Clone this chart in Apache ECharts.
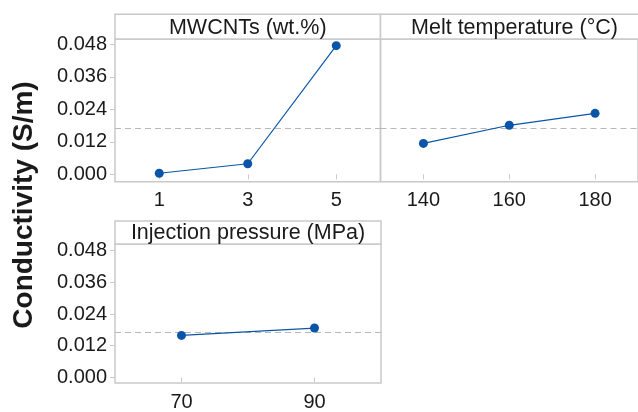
<!DOCTYPE html>
<html>
<head>
<meta charset="utf-8">
<script src="https://cdn.jsdelivr.net/npm/echarts@6/dist/echarts.min.js"></script>
<style>
  html, body { margin: 0; padding: 0; background: #ffffff; }
  #chart { width: 638px; height: 412px; }
</style>
</head>
<body>
<div id="chart"></div>
<script>
// Main effects of each factor on conductivity (S/m)
const mwcntLevels = ['1', '3', '5'];
const mwcntMeans = [0.0004, 0.0039, 0.0475];

const meltLevels = ['140', '160', '180'];
const meltMeans = [0.0114, 0.0181, 0.0225];

const pressureLevels = ['70', '90'];
const pressureMeans = [0.0159, 0.0187];

const grandMean = 0.0170;

const yTicks = [0, 0.012, 0.024, 0.036, 0.048];

const panelTitles = ['MWCNTs (wt.%)', 'Melt temperature (°C)', 'Injection pressure (MPa)'];
const yTitle = 'Conductivity (S/m)';

const FONT = '"Liberation Sans", Arial, sans-serif';
const FRAME = '#c9c9c9';
const LINE = '#0a55a8';
const TEXT = '#1a1a1a';

// panel boxes: plot area plus the title strip above it
const panels = [
  { left: 115, top: 39, width: 265.5, height: 142.7, strip: 24.7, ymin: -0.00273, ymax: 0.04996, yLabels: true },
  { left: 380.5, top: 39, width: 268, height: 142.7, strip: 24.7, ymin: -0.00273, ymax: 0.04996, yLabels: false },
  { left: 115, top: 244, width: 266, height: 142.5, strip: 23, ymin: -0.0021, ymax: 0.0505, yLabels: true }
];

const levels = [mwcntLevels, meltLevels, pressureLevels];
const means = [mwcntMeans, meltMeans, pressureMeans];

const chart = echarts.init(document.getElementById('chart'), null, { renderer: 'canvas' });

const grid = panels.map(p => ({
  left: p.left, top: p.top, width: p.width, height: p.height,
  show: true, borderColor: FRAME, borderWidth: 1.5, backgroundColor: 'transparent',
  containLabel: false
}));

const xAxis = panels.map((p, i) => ({
  type: 'category',
  gridIndex: i,
  data: levels[i],
  boundaryGap: true,
  axisLine: { show: false },
  axisTick: { show: true, alignWithLabel: true, length: 5, lineStyle: { color: FRAME, width: 1 } },
  axisLabel: { color: TEXT, fontSize: 20, fontFamily: FONT, margin: 9 },
  splitLine: { show: false }
}));

const yAxis = panels.map((p, i) => ({
  type: 'value',
  gridIndex: i,
  min: p.ymin,
  max: p.ymax,
  axisLine: { show: false },
  axisTick: {
    show: p.yLabels, length: 5, customValues: yTicks,
    lineStyle: { color: FRAME, width: 1 }
  },
  axisLabel: {
    show: p.yLabels, customValues: yTicks, color: TEXT, fontSize: 20, fontFamily: FONT, margin: 8,
    formatter: v => v.toFixed(3)
  },
  splitLine: { show: false }
}));

const series = panels.map((p, i) => ({
  type: 'line',
  xAxisIndex: i,
  yAxisIndex: i,
  data: means[i],
  symbol: 'circle',
  symbolSize: 9,
  lineStyle: { color: LINE, width: 1.2 },
  itemStyle: { color: LINE },
  z: 3,
  // grand mean reference line
  markLine: {
    silent: true,
    symbol: 'none',
    precision: 6,
    label: { show: false },
    lineStyle: { color: '#b8b8b8', type: [6, 4], width: 1.2 },
    data: [{ yAxis: grandMean }],
    z: 1
  }
}));

const graphic = [];
panels.forEach((p, i) => {
  const top = p.top - p.strip;
  graphic.push({
    type: 'rect',
    shape: { x: p.left, y: top, width: p.width, height: p.strip },
    style: { fill: '#ffffff', stroke: FRAME, lineWidth: 1.5 },
    z: 10
  });
  graphic.push({
    type: 'text',
    x: p.left + p.width / 2,
    y: top + p.strip / 2 + 1,
    style: {
      text: panelTitles[i], fill: TEXT, font: '21.5px ' + FONT,
      textAlign: 'center', textVerticalAlign: 'middle'
    },
    z: 11
  });
});
graphic.push({
  type: 'text',
  x: 24,
  y: 205,
  rotation: Math.PI / 2,
  style: {
    text: yTitle, fill: TEXT, font: 'bold 28px ' + FONT,
    textAlign: 'center', textVerticalAlign: 'middle'
  },
  z: 11
});

chart.setOption({
  animation: false,
  backgroundColor: '#ffffff',
  grid, xAxis, yAxis, series, graphic
});
</script>
</body>
</html>
